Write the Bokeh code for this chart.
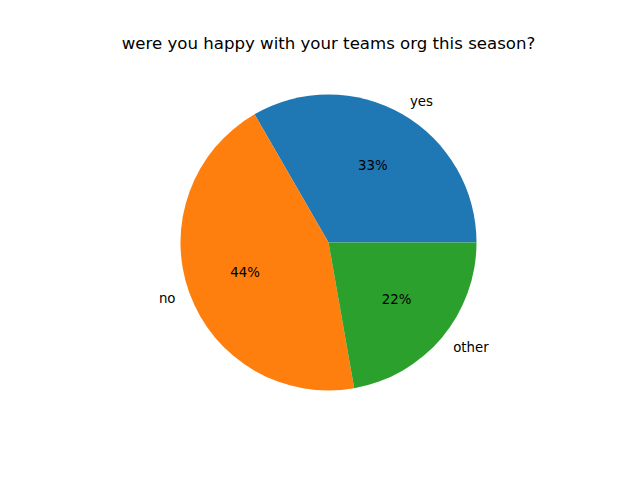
import math
from bokeh.plotting import figure
from bokeh.models import ColumnDataSource, Range1d
from bokeh.core.properties import value
from bokeh.embed import file_html
from bokeh.resources import INLINE

# ---- data ----
title_text = "were you happy with your teams org this season?"
categories = ["yes", "no", "other"]
counts = [3, 4, 2]
colors = ["#1f77b4", "#ff7f0e", "#2ca02c"]

# ---- layout (figure in pixel units) ----
W, H = 624, 464
cx, cy = 328, H - 242
R = 148

total = sum(counts)
starts, ends, lx, ly, align, px, py, pct = [], [], [], [], [], [], [], []
acc = 0.0
for c in counts:
    a0 = 2 * math.pi * acc / total
    acc += c
    a1 = 2 * math.pi * acc / total
    starts.append(a0)
    ends.append(a1)
    mid = (a0 + a1) / 2
    x = math.cos(mid)
    y = math.sin(mid)
    lx.append(cx + 1.1 * R * x)
    ly.append(cy + 1.1 * R * y)
    align.append("left" if x > 0 else "right")
    px.append(cx + 0.6 * R * x)
    py.append(cy + 0.6 * R * y)
    pct.append("%.0f%%" % (100.0 * c / total))

src = ColumnDataSource(dict(cat=categories, start=starts, end=ends, color=colors,
                            lx=lx, ly=ly, align=align, px=px, py=py, pct=pct,
                            x=[cx] * len(counts), y=[cy] * len(counts)))

p = figure(width=W, height=H, output_backend="svg", toolbar_location=None,
           x_range=Range1d(0, W), y_range=Range1d(0, H),
           x_axis_type=None, y_axis_type=None, min_border=0)
p.grid.visible = False
p.outline_line_color = None
p.background_fill_color = "white"
p.border_fill_color = "white"

p.wedge(x="x", y="y", radius=R, start_angle="start", end_angle="end",
        fill_color="color", line_color=None, source=src)

p.text(x="lx", y="ly", text="cat", text_align="align", text_baseline="middle",
       text_font=value("DejaVu Sans"), text_font_size="13.33px", text_color="black",
       source=src)
p.text(x="px", y="py", text="pct", text_align="center", text_baseline="middle",
       text_font=value("DejaVu Sans"), text_font_size="13.33px", text_color="black",
       source=src)

p.text(x=[328], y=[H - 43], text=[title_text], text_align="center", text_baseline="middle",
       text_font=value("DejaVu Sans"), text_font_size="16.6px", text_color="black")

open("out.html", "w").write(file_html(p, INLINE))
